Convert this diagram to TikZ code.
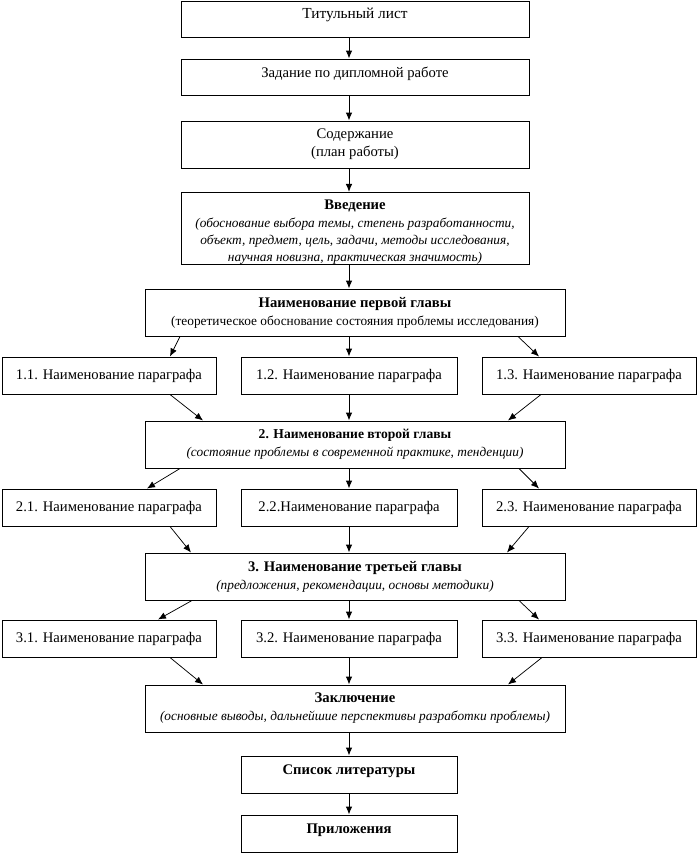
\documentclass[tikz,border=0pt]{standalone}
\usepackage{fontspec}
\setmainfont{Liberation Serif}
\usetikzlibrary{arrows.meta,calc}
\begin{document}
\begin{tikzpicture}[x=0.75pt,y=-0.75pt,
  box/.style={draw,line width=0.75pt,inner sep=0pt,align=center,font=\fontsize{11}{13.5}\selectfont},
  arr/.style={line width=0.75pt,-{Latex[length=6pt,width=5pt]}},
  darr/.style={line width=0.55pt,-{Latex[length=6pt,width=5pt]}}]
\useasboundingbox[fill=white] (0,0) rectangle (698,854);
\newcommand\bx[6]{\node[box,minimum width={(#4-#2)*0.75pt},minimum height={(#5-#3)*0.75pt}] (#1) at ({(#2+#4)/2},{(#3+#5)/2}) {#6};}
\newcommand\itx[1]{{\fontsize{10}{12}\selectfont\itshape #1}}
\coordinate (o) at (0,0);
\coordinate (ax) at (349,0);
\bx{b1}{181}{1}{529}{37}{\fontsize{11.5}{13.5}\selectfont Титульный лист\\[-9pt]\strut}
\bx{b2}{181}{59}{529}{95}{Задание по дипломной работе\\[-10pt]\strut}
\bx{b3}{181}{121}{529}{168}{Содержание\\(план работы)}
\bx{b4}{181}{193}{529}{264}{\strut\\[-10pt]\textbf{Введение}\\[-0.5pt]
  \itx{(обоснование выбора темы, степень разработанности,}\\[-0.5pt]
  \itx{объект, предмет, цель, задачи, методы исследования,}\\[-0.5pt]
  \itx{научная новизна, практическая значимость)}}
\bx{b5}{145}{289}{565}{336}{\textbf{Наименование первой главы}\\{\fontsize{10}{13}\selectfont(теоретическое обоснование состояния проблемы исследования)}}
\bx{p11}{2}{357}{216}{394}{1.1. Наименование параграфа}
\bx{p12}{241}{357}{457}{394}{1.2. Наименование параграфа}
\bx{p13}{482}{357}{696}{394}{1.3. Наименование параграфа}
\bx{b7}{145}{421}{565}{468}{{\fontsize{10.2}{13}\selectfont\textbf{2. Наименование второй главы}}\\\itx{(состояние проблемы в современной практике, тенденции)}}
\bx{p21}{2}{489}{216}{526}{2.1. Наименование параграфа}
\bx{p22}{241}{489}{457}{526}{2.2.Наименование параграфа}
\bx{p23}{482}{489}{696}{526}{2.3. Наименование параграфа}
\bx{b9}{145}{553}{565}{600}{\textbf{3. Наименование третьей главы}\\\itx{(предложения, рекомендации, основы методики)}}
\bx{p31}{2}{620}{216}{657}{3.1. Наименование параграфа}
\bx{p32}{241}{620}{457}{657}{3.2. Наименование параграфа}
\bx{p33}{482}{620}{696}{657}{3.3. Наименование параграфа}
\bx{b11}{145}{685}{565}{732}{\textbf{Заключение}\\\itx{(основные выводы, дальнейшие перспективы разработки проблемы)}}
\bx{b12}{241}{756}{457}{793}{\textbf{Список литературы}\\[-10pt]\strut}
\bx{b13}{241}{815}{457}{852}{\textbf{Приложения}\\[-10pt]\strut}
% vertical arrows
\foreach \a/\b in {b1/b2,b2/b3,b3/b4,b4/b5,b5/p12,p12/b7,b7/p22,p22/b9,b9/p32,p32/b11,b11/b12,b12/b13}
  \draw[arr] (\a.south -| ax) -- (\b.north -| ax);
% diagonal arrows
\foreach \a/\xa/\b/\xb in {b5/180/p11/170, p11/170/b7/203, b5/518/p13/539, p13/541/b7/508,
  b7/180/p21/147, p21/170/b9/191, b7/519/p23/539, p23/529/b9/507,
  b9/192/p31/158, p31/170/b11/203, b9/519/p33/539, p33/542/b11/508}
  \draw[darr] ($(\a.south -| o)+(\xa,0)$) -- ($(\b.north -| o)+(\xb,0)$);
\end{tikzpicture}
\end{document}
